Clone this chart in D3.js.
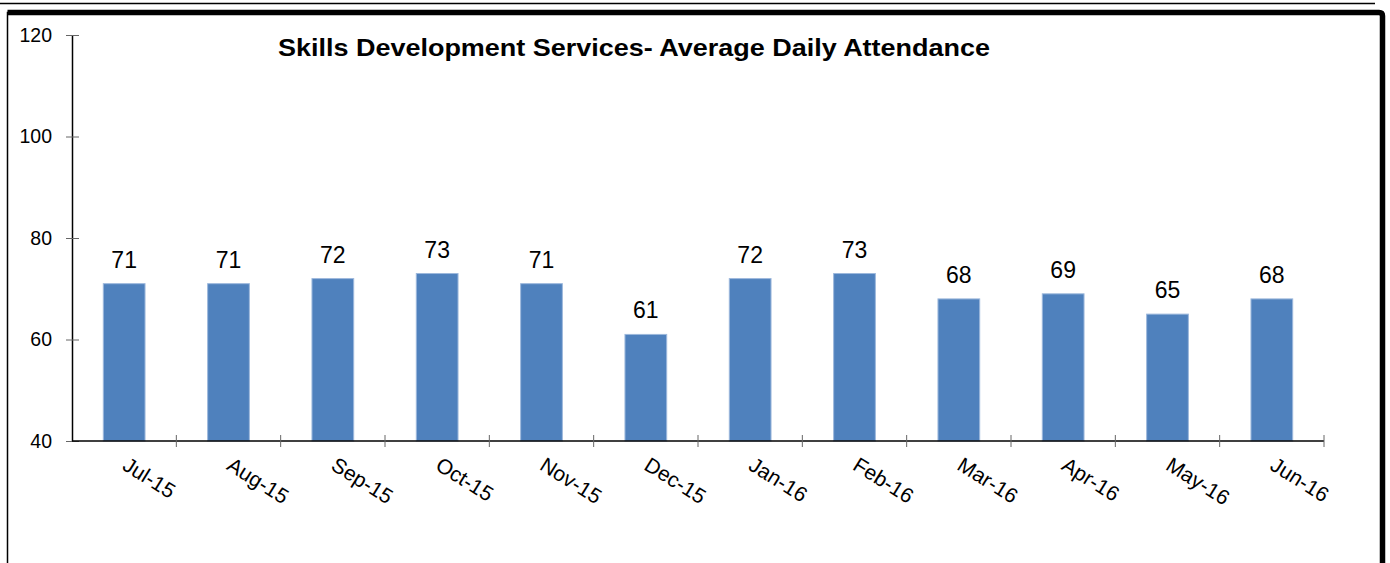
<!DOCTYPE html>
<html>
<head>
<meta charset="utf-8">
<script src="https://cdn.jsdelivr.net/npm/d3@7"></script>
<style>
  html, body { margin: 0; padding: 0; background: #fff; }
  svg { display: block; font-family: Arial, "Liberation Sans", sans-serif; }
</style>
</head>
<body>
<svg id="chart" width="1390" height="563"></svg>
<script>
// Monthly average daily attendance
const months = ["Jul-15", "Aug-15", "Sep-15", "Oct-15", "Nov-15", "Dec-15",
                "Jan-16", "Feb-16", "Mar-16", "Apr-16", "May-16", "Jun-16"];
const attendance = [71, 71, 72, 73, 71, 61, 72, 73, 68, 69, 65, 68];
const yTicks = [40, 60, 80, 100, 120];
const title = "Skills Development Services- Average Daily Attendance";

const svg = d3.select("#chart");

// Page frame
svg.append("line").attr("x1", 0).attr("x2", 1375).attr("y1", 3.5).attr("y2", 3.5)
  .attr("stroke", "#000").attr("stroke-width", 1.5);
svg.append("path")
  .attr("d", "M7.5,563 L7.5,12.5 L1379,12.5 Q1382.5,12.5 1382.5,16 L1382.5,563")
  .attr("fill", "none").attr("stroke", "#000").attr("stroke-width", 1.5);
svg.append("path")
  .attr("d", "M7.5,12.5 L1379,12.5 Q1382.5,12.5 1382.5,16 L1382.5,563")
  .attr("fill", "none").attr("stroke", "#000").attr("stroke-width", 5.5);

const plot = { left: 72, right: 1324, top: 35, bottom: 441 };

const x = d3.scaleBand()
  .domain(months)
  .range([plot.left, plot.right])
  .paddingInner(0.6)
  .paddingOuter(0.3);

const y = d3.scaleLinear()
  .domain([40, 120])
  .range([plot.bottom, plot.top]);

// Bars
svg.append("g").selectAll("rect")
  .data(months.map((m, i) => ({ m, v: attendance[i] })))
  .join("rect")
  .attr("x", d => x(d.m))
  .attr("y", d => y(d.v))
  .attr("width", x.bandwidth())
  .attr("height", d => y(40) - y(d.v))
  .attr("fill", "#4F81BD")
  .attr("stroke", "#9DB8DC")
  .attr("stroke-width", 1);

// Value labels
svg.append("g").selectAll("text")
  .data(months.map((m, i) => ({ m, v: attendance[i] })))
  .join("text")
  .attr("x", d => x(d.m) + x.bandwidth() / 2)
  .attr("y", d => y(d.v) - 16)
  .attr("text-anchor", "middle")
  .attr("font-size", 23)
  .attr("fill", "#000")
  .text(d => d.v);

// Y axis
const yAxis = svg.append("g")
  .attr("transform", `translate(${plot.left},0)`)
  .call(d3.axisLeft(y).tickValues(yTicks).tickSize(0).tickPadding(20));
yAxis.select(".domain").attr("stroke", "#000").attr("stroke-width", 1.5);
yAxis.selectAll("text").attr("font-size", 19.5).attr("fill", "#000")
  .attr("font-family", "Arial, 'Liberation Sans', sans-serif");
yAxis.selectAll(".tick").append("line")
  .attr("x1", -6).attr("x2", 7).attr("stroke", "#666").attr("stroke-width", 1);

// X axis: boundary ticks between months
const xg = svg.append("g");
xg.append("line")
  .attr("x1", plot.left).attr("x2", plot.right)
  .attr("y1", plot.bottom).attr("y2", plot.bottom)
  .attr("stroke", "#000").attr("stroke-width", 1.5);
const step = x.step();
const bounds = d3.range(months.length + 1).map(i => plot.left + i * step);
xg.selectAll("line.tick")
  .data(bounds.slice(1))
  .join("line")
  .attr("class", "tick")
  .attr("x1", d => d).attr("x2", d => d)
  .attr("y1", plot.bottom - 6).attr("y2", plot.bottom + 6)
  .attr("stroke", "#666").attr("stroke-width", 1);

// Rotated month labels
xg.selectAll("text")
  .data(months)
  .join("text")
  .attr("transform", d => `translate(${x(d) + x.bandwidth() / 2 + 5},${plot.bottom + 15}) rotate(32)`)
  .attr("dy", "0.72em")
  .attr("text-anchor", "start")
  .attr("font-size", 21)
  .attr("fill", "#000")
  .text(d => d);

// Title
svg.append("text")
  .attr("x", 634)
  .attr("y", 56)
  .attr("text-anchor", "middle")
  .attr("font-size", 24)
  .attr("font-weight", "bold")
  .attr("fill", "#000")
  .attr("textLength", 712)
  .attr("lengthAdjust", "spacingAndGlyphs")
  .text(title);
</script>
</body>
</html>
